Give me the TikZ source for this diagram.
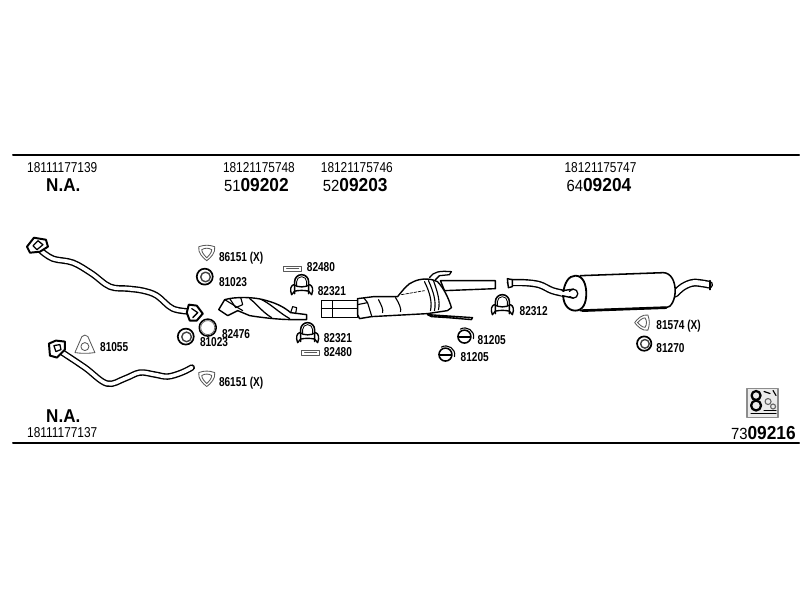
\documentclass[tikz,border=0pt]{standalone}
\usepackage{fontspec}
\newfontfamily\partfont[FakeStretch=0.78]{Liberation Sans}
\newfontfamily\artfont[FakeStretch=0.83]{Liberation Sans}
\newfontfamily\headfont[FakeStretch=0.92]{Liberation Sans}
\usetikzlibrary{calc, positioning}

\begin{document}
\begin{tikzpicture}[
    x=0.025cm, y=-0.025cm,
    line join=round, line cap=round,
    rule/.style={line width=1.4pt},
    outline/.style={line width=1pt, fill=white},
    fine/.style={line width=0.6pt},
    pipe/.style={draw=black, line width=1pt, double=white, double distance=2.6pt},
    seal/.style={draw=black!65, line width=0.6pt, fill=white},
    partno/.style={anchor=west, inner sep=0pt, font=\partfont\bfseries\fontsize{9.2}{10}\selectfont},
    artno/.style={anchor=west, inner sep=0pt, font=\artfont\fontsize{10.2}{11}\selectfont},
    setno/.style={anchor=west, inner sep=0pt, font=\headfont\fontsize{11.5}{12}\selectfont},
    ring/.pic={
        \draw [line width=1.2pt] (0,0) circle [radius=8];
        \draw [line width=1pt, draw=black!75] (0.8,0.3) circle [radius=4.8];
    },
    openring/.pic={
        \draw [line width=1.1pt] (0,0) circle [radius=8.5];
        \draw [line width=0.5pt, draw=black!60] (0,0) circle [radius=7];
    },
    splitring/.pic={
        \draw [line width=1.1pt] (-1,1) circle [radius=6.5];
        \draw [line width=0.9pt] (-7,1.5) -- (5,1.5);
        \draw [line width=0.8pt] (-5,-6.5) .. controls (1,-10) and (10,-5) .. (8,3);
    },
    gasket/.pic={
        \draw [seal] (-8,-6) .. controls (-2,-8) and (2,-8) .. (8,-6)
            .. controls (9,0) and (4,5) .. (0,8)
            .. controls (-4,5) and (-9,0) .. (-8,-6) -- cycle;
        \draw [seal] (-5,-3) .. controls (-2,-5) and (2,-5) .. (5,-3)
            .. controls (5,0) and (2,3) .. (0,5)
            .. controls (-2,3) and (-5,0) .. (-5,-3) -- cycle;
    },
    delta/.pic={
        \draw [seal] (-10,8) -- (-3,-8) .. controls (-1,-10) and (1,-10) .. (3,-8) -- (10,8)
            .. controls (4,9) and (-4,9) .. (-10,8) -- cycle;
        \draw [seal] (0,2) circle [radius=4];
    },
    clamp/.pic={
        % saddle
        \draw [line width=1pt] (-10,10) .. controls (-12,5) and (-11,1) .. (-8,0)
            .. controls (-4,3) and (4,3) .. (8,0)
            .. controls (11,1) and (12,5) .. (10,10);
        \draw [line width=1pt] (-10,10) -- (-7,6.5) .. controls (-3,5.5) and (3,5.5) .. (7,6.5) -- (10,10);
        % u-bolt
        \draw [line width=1.1pt] (-7,9) -- (-7,-3) arc [start angle=180, end angle=360, radius=7] -- (7,9);
        \draw [fine] (-5,1) -- (-5,-3) arc [start angle=180, end angle=360, radius=5] -- (5,1);
    },
    strap/.pic={
        \draw [seal] (-9,-2.5) rectangle (9,2.5);
        \draw [seal] (-6,0) -- (6,0);
    }
]

    % Header and footer rules
    \coordinate (hdrL) at (13,155);
    \coordinate (hdrR) at (800,155);
    \coordinate (ftrL) at (13,443.6);
    \coordinate (ftrR) at (800,443.6);
    \draw [rule] (hdrL) -- (hdrR);
    \draw [rule] (ftrL) -- (ftrR);

    % Set numbers
    \node [artno] (art139) at (27,168) {18111177139};
    \node [artno] (art748) at (223,168) {18121175748};
    \node [artno] (art746) at (321,168) {18121175746};
    \node [artno] (art747) at (565,168) {18121175747};
    \node [setno] (naTop) at (46,185) {\bfseries\fontsize{13.2}{14}\selectfont N.A.};
    \node [setno] (set202) at (224,185) {51{\bfseries\fontsize{13.4}{14}\selectfont 09202}};
    \node [setno] (set203) at (323,185) {52{\bfseries\fontsize{13.4}{14}\selectfont 09203}};
    \node [setno] (set204) at (567,185) {64{\bfseries\fontsize{13.4}{14}\selectfont 09204}};
    \node [setno] (naBot) at (46,417) {\bfseries\fontsize{13.2}{14}\selectfont N.A.};
    \node [artno] (art137) at (27,433) {18111177137};
    \node [setno, anchor=east] (set216) at (797,434) {73{\bfseries\fontsize{13.4}{14}\selectfont 09216}};

    % Upper front pipe
    \draw [pipe] plot [smooth, tension=0.6] coordinates {(41,251) (53,259) (73,263) (92,274) (110,287) (128,289) (143,291) (157,296) (173,309) (192,312)};
    \draw [outline, line width=1.4pt] (27,247) -- (34,238) -- (46,240) -- (48,247) -- (40,252) -- (30,253) -- cycle;
    \draw [line width=0.9pt] (33,246) -- (38,241) -- (43,245) -- (37,250) -- cycle;
    \draw [outline, line width=1.4pt] (189,305) -- (197,306) -- (203,314) -- (197,321) -- (190,321) -- (187,313) -- cycle;
    \draw [line width=0.9pt] (192,309) -- (198,313) -- (193,318);

    % Lower front pipe
    \draw [pipe] plot [smooth, tension=0.6] coordinates {(61,352) (85,368) (107,384) (125,379) (140,373) (155,375) (168,377) (182,373) (192,368)};
    \draw [outline, line width=1.4pt] (49,344) -- (56,341) -- (65,342) -- (65,350) -- (57,358) -- (50,356) -- cycle;
    \draw [line width=0.9pt] (54,346) -- (60,345) -- (61,350) -- (56,352) -- cycle;

    % Catalyst
    \draw [outline] (225,300) .. controls (235,297) and (255,297) .. (267,301)
        .. controls (278,304) and (285,308) .. (291,313) -- (307,315) -- (307,320) -- (292,320)
        .. controls (280,320) and (262,318) .. (250,316) -- (238,311) -- (228,316) -- (219,310) -- cycle;
    \draw [line width=0.8pt] (225,300) -- (243,311);
    \draw [line width=0.8pt] (230,299) -- (236,308) -- (243,305) -- (241,298);
    \draw [line width=0.9pt] (250,299) .. controls (258,305) and (262,312) .. (272,318);
    \draw [line width=0.9pt] (262,300) .. controls (272,305) and (278,312) .. (290,319);
    \draw [line width=0.8pt] (291,313) -- (293,307) -- (297,308) -- (296,314);

    % Front silencer, twin pipes
    \draw [outline, line width=1pt] (322,301) rectangle (358,318);
    \draw [line width=0.9pt] (322,309) -- (358,309);
    \draw [line width=0.9pt] (333,301) -- (333,318);

    % Outlet pipe of the front silencer
    \draw [outline] (441,281) -- (496,281) -- (496,289) -- (445,291) -- cycle;

    % Front silencer, body
    \draw [outline] (358,299) -- (374,297) -- (398,297) .. controls (404,290) and (408,284) .. (414,282)
        .. controls (420,279) and (430,278) .. (438,282)
        .. controls (444,288) and (449,298) .. (452,308) -- (448,311) -- (428,314) -- (372,317) -- (360,319) -- (358,315) -- cycle;
    \draw [line width=0.8pt] (358,305) -- (368,303) -- (372,316);
    \draw [line width=0.8pt] (368,303) -- (364,298);
    \draw [line width=0.8pt] (379,300) .. controls (382,306) and (384,310) .. (383,313);
    \draw [line width=0.8pt] (396,298) .. controls (400,304) and (402,310) .. (401,312);
    \draw [line width=0.8pt] (425,282) .. controls (430,292) and (433,302) .. (431,311);
    \draw [line width=0.8pt] (429,281) .. controls (434,292) and (437,302) .. (435,311);
    \draw [line width=0.8pt] (434,281) .. controls (438,292) and (441,302) .. (439,310);
    \draw [line width=0.5pt, dash pattern=on 2pt off 1pt] (402,295) -- (425,291);

    % Hanger and heat shield strip
    \draw [line width=0.9pt] (430,278) .. controls (434,272) and (440,271) .. (452,272)
        -- (450,275) -- (440,276) -- (436,280);
    \draw [outline] (428,315) -- (473,318) -- (472,320) -- (448,318) -- (432,317) -- cycle;

    % Rear pipe and silencer
    \draw [pipe, double distance=3.2pt] plot [smooth, tension=0.6] coordinates {(511,283) (525,283) (540,285) (553,291) (566,294)};
    \draw [outline] (508,279) -- (513,280) -- (513,287) -- (509,288) -- cycle;
    \draw [pipe, double distance=3.6pt] plot [smooth, tension=0.6] coordinates {(676,294) (684,287) (695,283) (710,285)};
    \draw [line width=1pt] (711,281) -- (711,290);

    \draw [line width=1.1pt, fill=white] (581,276) -- (664,273) .. controls (672,273) and (676,282) .. (676,291)
        .. controls (676,300) and (672,308) .. (667,308) -- (581,311) -- cycle;
    \draw [line width=1.9pt] (583,311) -- (667,308);
    \draw [line width=1.3pt, fill=white] (576,276) .. controls (584,276) and (587,285) .. (587,294)
        .. controls (587,303) and (584,311) .. (576,311)
        .. controls (568,311) and (563,303) .. (564,293)
        .. controls (565,284) and (569,276) .. (576,276) -- cycle;
    \draw [line width=0.9pt] (574,294) circle [radius=4.5];
    \draw [white, line width=3pt] (563,294) -- (572,294);
    \draw [line width=1pt] (563,291) -- (574,289.5);
    \draw [line width=1pt] (563,296) -- (574,298.5);

    % Small parts and their numbers
    \pic at (207,253) {gasket};
    \node [partno] (num86151a) at (219,258) {86151 (X)};
    \pic at (205,277) {ring};
    \node [partno] (num81023a) at (219,282) {81023};
    \pic at (208,328) {openring};
    \pic at (186,337) {ring};
    \node [partno] (num81023b) at (200,342) {81023};
    \node [partno] (num82476) at (222,334) {82476};
    \pic at (85,345) {delta};
    \node [partno] (num81055) at (100,347) {81055};
    \pic at (207,379) {gasket};
    \node [partno] (num86151b) at (219,384) {86151 (X)};
    \pic at (293,269) {strap};
    \node [partno] (num82480a) at (307,267) {82480};
    \pic at (302,285) {clamp};
    \node [partno] (num82321a) at (318,291) {82321};
    \pic at (308,333) {clamp};
    \node [partno] (num82321b) at (324,338) {82321};
    \pic at (311,353) {strap};
    \node [partno] (num82480b) at (324,352) {82480};
    \pic at (503,305) {clamp};
    \node [partno] (num82312) at (520,311) {82312};
    \pic at (466,336) {splitring};
    \node [partno] (num81205a) at (478,340) {81205};
    \pic at (447,354) {splitring};
    \node [partno] (num81205b) at (461,357) {81205};
    \pic [rotate=-90, scale=0.95] at (643,323) {gasket};
    \node [partno] (num81574) at (657,327) {81574 (X)};
    \pic [scale=0.9] at (645,344) {ring};
    \node [partno] (num81270) at (657,348) {81270};

    % Symbol box
    \draw [draw=black!45, line width=0.9pt, fill=black!8] (748,389) rectangle (779,418);
    \draw [line width=1.6pt] (757,396) circle [radius=4.5];
    \draw [line width=1.6pt] (757,406) circle [radius=5];
    \draw [line width=0.8pt] (765,392) -- (771,394) (774,391) -- (777,396);
    \draw [black!60, line width=0.8pt] (769,402) circle [radius=3] (774,407) circle [radius=2.5];
    \draw [line width=0.9pt] (752,414) -- (777,414) (765,411) -- (777,411);

    \useasboundingbox (0,0) rectangle (800,600);
\end{tikzpicture}
\end{document}
